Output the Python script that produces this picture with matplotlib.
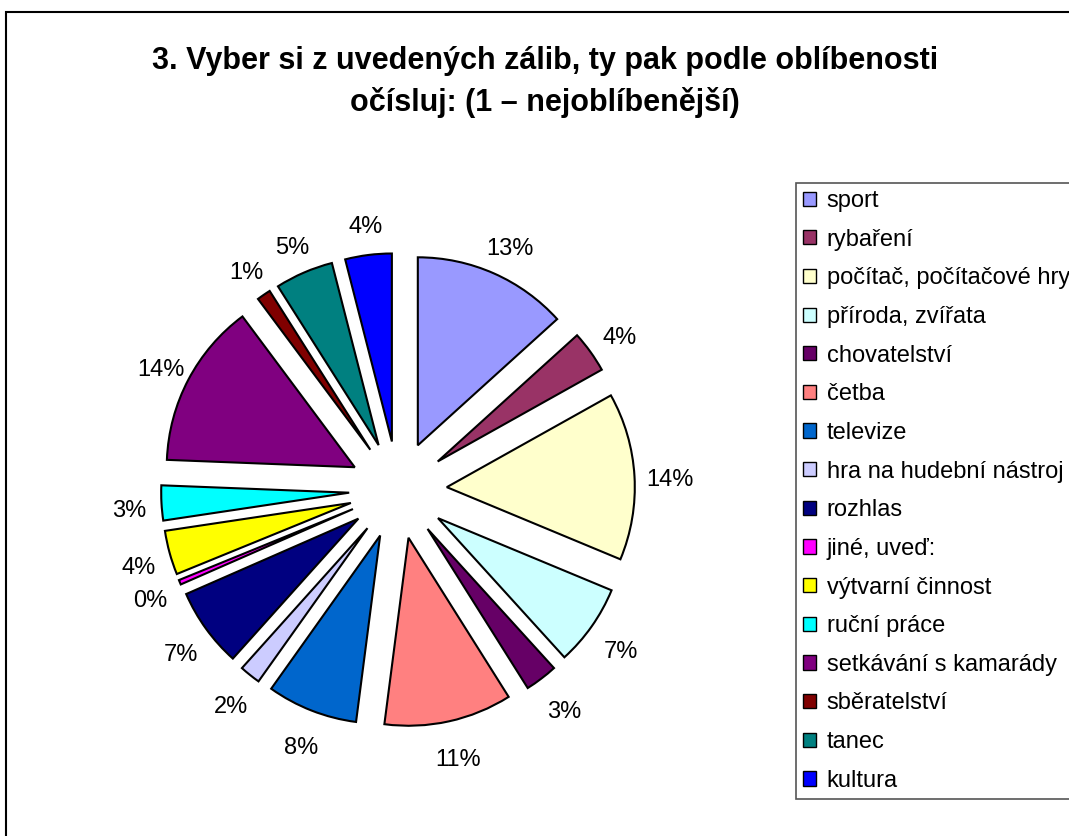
import matplotlib
matplotlib.use('Agg')
import matplotlib.pyplot as plt
from matplotlib.patches import Rectangle

plt.rcParams['font.family'] = ['Liberation Sans', 'DejaVu Sans']

categories = ['sport', 'rybaření', 'počítač, počítačové hry', 'příroda, zvířata',
              'chovatelství', 'četba', 'televize', 'hra na hudební nástroj',
              'rozhlas', 'jiné, uveď:', 'výtvarní činnost', 'ruční práce',
              'setkávání s kamarády', 'sběratelství', 'tanec', 'kultura']
shares = [13.3, 3.6, 14.4, 7.0, 2.8, 11.0, 7.8, 1.8, 6.8, 0.4, 3.8, 3.0,
          14.2, 1.2, 5.0, 4.0]
colors = ['#9999FF', '#993366', '#FFFFCC', '#CCFFFF', '#660066', '#FF8080',
          '#0066CC', '#CCCCFF', '#000080', '#FF00FF', '#FFFF00', '#00FFFF',
          '#800080', '#800000', '#008080', '#0000FF']

W, H = 1069, 836
fig = plt.figure(figsize=(W / 100, H / 100), dpi=100)

# outer chart border (cut off on right and bottom)
fig.patches.append(Rectangle((6 / W, -0.1), 1.2, 1.1 - 12 / H,
                             transform=fig.transFigure, fill=False,
                             edgecolor='black', linewidth=1.5))

# pie axes: center (398, 490) px, radius 188 px
cx, cy, r = 398, 490, 188
half = 1.6 * r
ax = fig.add_axes([(cx - half) / W, (H - cy - half) / H, 2 * half / W, 2 * half / H])
wedges, texts, autotexts = ax.pie(
    shares, colors=colors, startangle=90, counterclock=False,
    explode=[0.26] * len(shares), autopct=lambda p: f'{p:.0f}%',
    pctdistance=1.18, wedgeprops=dict(edgecolor='black', linewidth=1.5),
    textprops=dict(fontsize=17, color='black'))
# Excel puts the labels a little lower
for t in autotexts:
    x, y = t.get_position()
    t.set_position((x + 2 / r, y - 6 / r))
ax.set_xlim(-1.6, 1.6)
ax.set_ylim(-1.6, 1.6)
ax.axis('off')

fig.text(545 / W, 1 - 61 / H, '3. Vyber si z uvedených zálib, ty pak podle oblíbenosti',
         ha='center', va='center', fontsize=22, fontweight='bold')
fig.text(545 / W, 1 - 102 / H, 'očísluj: (1 – nejoblíbenější)',
         ha='center', va='center', fontsize=22, fontweight='bold')

leg = fig.legend(wedges, categories, loc='upper left',
                 bbox_to_anchor=(796 / W, 1 - 183 / H), fontsize=17,
                 handlelength=0.55, handleheight=0.55, handletextpad=0.45,
                 labelspacing=0.705, borderpad=0.3, borderaxespad=0,
                 fancybox=False, framealpha=1)
leg.get_frame().set_edgecolor('#555555')
leg.get_frame().set_linewidth(1.2)
for h in leg.legend_handles:
    h.set_linewidth(1.0)

fig.savefig('out.png', dpi=100)
